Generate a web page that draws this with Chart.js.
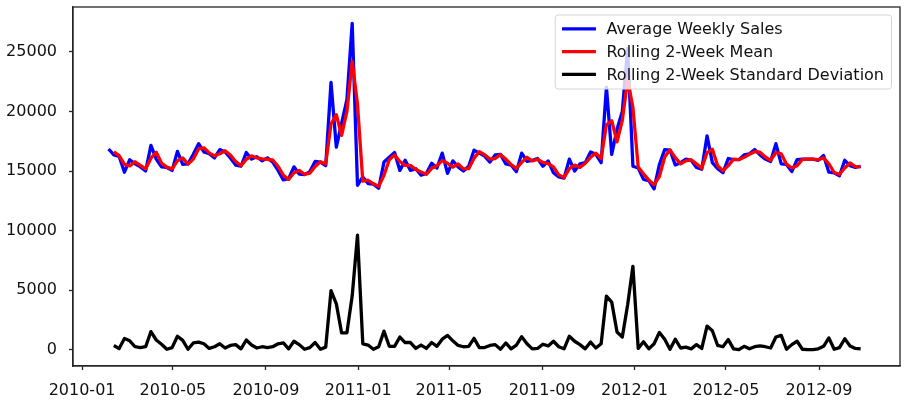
<!DOCTYPE html>
<html>
<head>
<meta charset="utf-8">
<title>Average Weekly Sales</title>
<script src="https://cdn.jsdelivr.net/npm/chart.js@4.4.1/dist/chart.umd.min.js"></script>
<style>
  html, body { margin: 0; padding: 0; background: #fff; }
  canvas { display: block; }
</style>
</head>
<body>
<canvas id="sales-chart" width="907" height="403"></canvas>
<script>
// weekly series, first week 2010-02-05
const firstWeek = '2010-02-05';

const weeklySales = [16850,16350,16220,14900,15950,15600,15350,15000,17150,16000,
  15350,15300,15050,16650,15550,15600,16400,17300,16600,16450,
  16100,16800,16600,16100,15500,15400,16550,16000,16200,15850,
  16100,15750,15050,14250,14350,15350,14750,14700,14950,15800,
  15750,15450,22450,17000,19000,21000,27400,13800,14500,13950,
  13900,13550,15750,16150,16550,15050,15900,15050,15200,14650,
  14800,15650,15250,16500,14800,15850,15350,15000,15400,16750,
  16500,16250,15750,16350,16400,15600,15500,14950,16500,15800,
  15900,16050,15400,15850,14850,14500,14400,16000,15000,15600,
  15700,16600,16400,15700,22050,16400,18500,20000,25300,15400,
  15250,14300,14200,13500,15550,16800,16750,15500,15700,16000,
  15900,15300,15150,17950,15700,15200,14850,16050,15950,15950,
  16350,16450,16800,16350,16000,15800,17300,15600,15550,14950,
  15950,16000,16000,16000,15900,16300,14900,14850,14600,15900,
  15450,15300,15400];

const rollingMean = [null,16600,16285,15560,15425,15775,15475,15175,16075,16575,
  15675,15325,15175,15850,16100,15575,16000,16850,16950,16525,
  16275,16450,16700,16350,15800,15450,15975,16275,16100,16025,
  15975,15925,15400,14650,14300,14850,15050,14725,14825,15375,
  15775,15600,18950,19725,18000,20000,24200,20600,14150,14225,
  13925,13725,14650,15950,16350,15800,15475,15475,15125,14925,
  14725,15225,15450,15875,15650,15325,15600,15175,15200,16075,
  16625,16375,16000,16050,16375,16000,15550,15225,15725,16150,
  15850,15975,15725,15625,15350,14675,14450,15200,15500,15300,
  15650,16150,16500,16050,18875,19225,17450,19250,22650,20350,
  15325,14775,14250,13850,14525,16175,16775,16125,15600,15850,
  15950,15600,15225,16550,16825,15450,15025,15450,16000,15950,
  16150,16400,16625,16575,16175,15900,16550,16450,15575,15250,
  15450,15975,16000,16000,15950,16100,15600,14875,14725,15250,
  15675,15375,15350];

const rollingStd = [null,354,92,933,742,247,177,247,1520,813,
  460,35,177,1131,778,35,566,636,495,106,
  247,495,141,354,424,71,813,389,141,247,
  177,247,495,566,71,707,424,35,177,601,
  35,212,4950,3854,1414,1414,4525,9617,495,389,
  35,247,1556,283,283,1061,601,601,106,389,
  106,601,283,884,1202,742,354,247,283,955,
  177,177,354,424,35,566,71,389,1096,495,
  71,106,460,318,707,247,71,1131,707,424,
  71,636,141,495,4490,3995,1485,1061,3748,7000,
  106,672,71,495,1450,884,35,884,141,212,
  71,424,106,1980,1591,354,247,849,71,0,
  283,71,247,318,247,141,1061,1202,35,424,
  707,35,0,0,71,283,990,35,177,919,
  318,106,71];

const xTickLabels = ['2010-01','2010-05','2010-09','2011-01','2011-05','2011-09','2012-01','2012-05','2012-09'];
const yTickValues = [0, 5000, 10000, 15000, 20000, 25000];

// x axis is days since 2010-01-01
const DAY = 86400000;
const origin = Date.UTC(2010, 0, 1);
const dayOf = s => (Date.parse(s + 'T00:00:00Z') - origin) / DAY;

const firstDay = dayOf(firstWeek);
const weekDays = weeklySales.map((_, i) => firstDay + 7 * i);
const xTicks = xTickLabels.map(l => ({ value: dayOf(l + '-01'), label: l }));

const toPoints = arr => arr.map((v, i) => ({ x: weekDays[i], y: v }));

const FONT = { family: 'DejaVu Sans', size: 16 };
const AXIS = '#262626';

// spines on top/right + legend box drawn like matplotlib
const frameAndLegend = {
  id: 'frameAndLegend',
  afterDraw(chart) {
    const { ctx, chartArea: a } = chart;
    ctx.save();
    ctx.strokeStyle = AXIS;
    ctx.lineWidth = 1.3;
    ctx.strokeRect(a.left, a.top, a.right - a.left, a.bottom - a.top);

    ctx.font = `${FONT.size}px ${FONT.family}`;
    const sets = chart.data.datasets;
    const textW = Math.max(...sets.map(d => ctx.measureText(d.label).width));
    const padL = 6.7, lineLen = 34, gap = 10.5, padR = 7.5, rowH = 22.8;
    const w = padL + lineLen + gap + textW + padR;
    const h = 74;
    const x = a.right - 8.5 - w, y = a.top + 8;

    ctx.beginPath();
    const r = 3;
    ctx.moveTo(x + r, y);
    ctx.arcTo(x + w, y, x + w, y + h, r);
    ctx.arcTo(x + w, y + h, x, y + h, r);
    ctx.arcTo(x, y + h, x, y, r);
    ctx.arcTo(x, y, x + w, y, r);
    ctx.closePath();
    ctx.fillStyle = 'rgba(255,255,255,0.8)';
    ctx.fill();
    ctx.strokeStyle = '#d6d6d6';
    ctx.lineWidth = 1;
    ctx.stroke();

    ctx.textBaseline = 'middle';
    ctx.textAlign = 'left';
    sets.forEach((d, i) => {
      const cy = y + 13.8 + rowH * i;
      ctx.strokeStyle = d.borderColor;
      ctx.lineWidth = 3.3;
      ctx.beginPath();
      ctx.moveTo(x + padL, cy);
      ctx.lineTo(x + padL + lineLen, cy);
      ctx.stroke();
      ctx.fillStyle = '#111';
      ctx.fillText(d.label, x + padL + lineLen + gap, cy + 1);
    });
    ctx.restore();
  }
};

const lineStyle = { pointRadius: 0, borderWidth: 3.3, tension: 0, borderJoinStyle: 'round', fill: false };

new Chart(document.getElementById('sales-chart'), {
  type: 'line',
  data: {
    datasets: [
      { label: 'Average Weekly Sales', data: toPoints(weeklySales), borderColor: '#0000ff', order: 3, ...lineStyle },
      { label: 'Rolling 2-Week Mean', data: toPoints(rollingMean), borderColor: '#ff0000', order: 2, ...lineStyle },
      { label: 'Rolling 2-Week Standard Deviation', data: toPoints(rollingStd), borderColor: '#000000', order: 1, ...lineStyle }
    ]
  },
  options: {
    responsive: false,
    animation: false,
    devicePixelRatio: 1,
    layout: { padding: { top: 7, right: 7, left: 0, bottom: 0 } },
    plugins: { legend: { display: false }, tooltip: { enabled: false } },
    scales: {
      x: {
        type: 'linear',
        min: -12,
        max: 1081,
        afterFit(s) { s.height = 37; s.paddingLeft = 0; s.paddingRight = 0; },
        afterBuildTicks(s) { s.ticks = xTicks.map(t => ({ value: t.value })); },
        ticks: {
          font: FONT, color: '#111', padding: 11, maxRotation: 0, autoSkip: false,
          callback: v => (xTicks.find(t => t.value === v) || {}).label
        },
        grid: { drawOnChartArea: false, drawTicks: true, tickLength: 4, tickColor: AXIS, tickWidth: 1.3 },
        border: { display: true, color: AXIS, width: 1.3 }
      },
      y: {
        min: -1370,
        max: 28770,
        afterFit(s) { s.width = 73; s.paddingTop = 0; s.paddingBottom = 0; },
        afterBuildTicks(s) { s.ticks = yTickValues.map(v => ({ value: v })); },
        ticks: { font: FONT, color: '#111', padding: 12, callback: v => String(v) },
        grid: { drawOnChartArea: false, drawTicks: true, tickLength: 4, tickColor: AXIS, tickWidth: 1.3 },
        border: { display: true, color: AXIS, width: 1.3 }
      }
    }
  },
  plugins: [frameAndLegend]
});
</script>
</body>
</html>
